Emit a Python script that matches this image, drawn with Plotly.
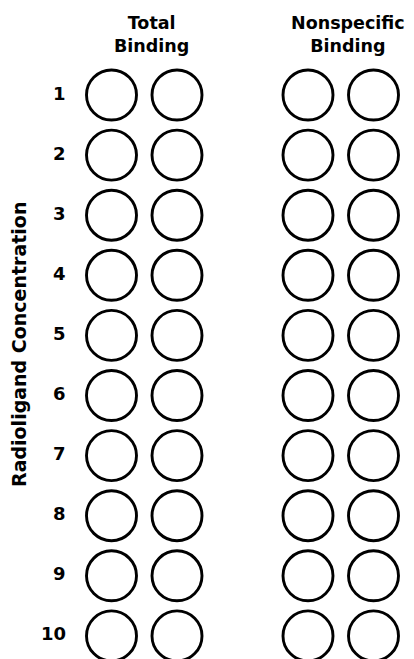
import plotly.graph_objects as go

# ---- data ----
concentrations = [1, 2, 3, 4, 5, 6, 7, 8, 9, 10]
row_labels = ["1", "2", "3", "4", "5", "6", "7", "8", "9", "10"]
groups = ["Total<br>Binding", "Nonspecific<br>Binding"]
replicates = [1, 2]
y_title = "Radioligand Concentration"

# ---- layout constants ----
PAGE_W, PAGE_H = 414, 659
OFF = 8                      # default page margin of the html body
W, H = PAGE_W - OFF, PAGE_H - OFF
FONT = "DejaVu Sans"
group_step = 3               # column units between groups
x_origin_px, x_unit_px = 111.5 - OFF, 65.5
y_first_px, y_step_px = 95.0 - OFF, 60.1

x_range = [-x_origin_px / x_unit_px, (W - x_origin_px) / x_unit_px]
y_range = [1 + (H - y_first_px) / y_step_px, 1 - y_first_px / y_step_px]


def px_x(p):
    return (p - OFF) / W


def px_y(p):
    return 1 - (p - OFF) / H


fig = go.Figure()

for gi, g in enumerate(groups):
    for ri, r in enumerate(replicates):
        xpos = gi * group_step + ri
        fig.add_trace(go.Scatter(
            x=[xpos] * len(concentrations),
            y=concentrations,
            mode="markers",
            marker=dict(symbol="circle-open", size=50, color="black",
                        line=dict(width=2.9, color="black")),
            showlegend=False,
            hoverinfo="skip",
        ))

annotations = []
# group headers
for gi, g in enumerate(groups):
    annotations.append(dict(
        x=gi * group_step + 0.5, xref="x", xshift=7,
        y=px_y(34.5), yref="paper",
        text="<b>%s</b>" % g, showarrow=False,
        xanchor="center", yanchor="middle", align="center",
        font=dict(family=FONT, size=17.5, color="black"),
    ))
# row labels
for c, lab in zip(concentrations, row_labels):
    annotations.append(dict(
        x=px_x(68), xref="paper", y=c, yref="y", yshift=2,
        text="<b>%s</b>" % lab, showarrow=False,
        xanchor="right", yanchor="middle",
        font=dict(family=FONT, size=18, color="black"),
    ))
# vertical axis title
annotations.append(dict(
    x=px_x(19), xref="paper", y=px_y(345), yref="paper",
    text="<b>%s</b>" % y_title, showarrow=False, textangle=-90,
    xanchor="center", yanchor="middle",
    font=dict(family=FONT, size=19, color="black"),
))

fig.update_layout(
    width=W, height=H,
    margin=dict(l=0, r=0, t=0, b=0),
    paper_bgcolor="white", plot_bgcolor="white",
    xaxis=dict(range=x_range, visible=False, fixedrange=True),
    yaxis=dict(range=y_range, visible=False, fixedrange=True),
    annotations=annotations,
    showlegend=False,
)

fig.write_html("out.html")
